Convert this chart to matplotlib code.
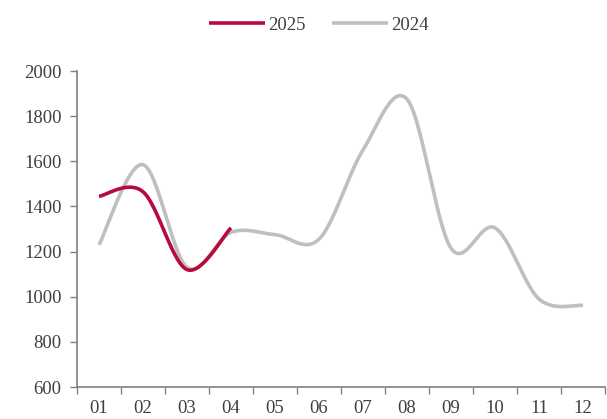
import numpy as np
import matplotlib
matplotlib.use('Agg')
from matplotlib import pyplot as plt

# du lieu doc tu hinh
months = ['01', '02', '03', '04', '05', '06', '07', '08', '09', '10', '11', '12']
y2024 = [1230, 1585, 1130, 1285, 1275, 1255, 1650, 1875, 1215, 1305, 990, 962]
y2025 = [1445, 1465, 1120, 1305]

plt.rcParams['font.family'] = ['Liberation Serif', 'DejaVu Serif']


def smooth(xs, ys, n=30):
    # duong cong kieu Excel (Bezier, he so 1/6)
    xs = np.asarray(xs, float)
    ys = np.asarray(ys, float)
    px, py = [], []
    for i in range(len(xs) - 1):
        i0 = max(i - 1, 0)
        i3 = min(i + 2, len(xs) - 1)
        p0 = np.array([xs[i0], ys[i0]])
        p1 = np.array([xs[i], ys[i]])
        p2 = np.array([xs[i + 1], ys[i + 1]])
        p3 = np.array([xs[i3], ys[i3]])
        c1 = p1 + (p2 - p0) / 6
        c2 = p2 - (p3 - p1) / 6
        t = np.linspace(0, 1, n)[:, None]
        pts = (1 - t) ** 3 * p1 + 3 * (1 - t) ** 2 * t * c1 + 3 * (1 - t) * t ** 2 * c2 + t ** 3 * p2
        px.extend(pts[:, 0])
        py.extend(pts[:, 1])
    return px, py


fig = plt.figure(figsize=(6.07, 4.19), dpi=100)
ax = fig.add_axes([77 / 607, 1 - 387 / 419, 528 / 607, 316 / 419])

x = np.arange(len(months))
sx, sy = smooth(x[:len(y2025)], y2025)
ax.plot(sx, sy, color='#b80a3c', lw=2.6, label='2025', zorder=3, solid_capstyle='butt')
sx, sy = smooth(x, y2024)
ax.plot(sx, sy, color='#bfbfbf', lw=2.6, label='2024', zorder=2, solid_capstyle='butt')

ax.set_xlim(-0.5, 11.5)
ax.set_ylim(600, 2000)
ax.set_yticks(range(600, 2001, 200))
ax.set_xticks(x)
ax.set_xticklabels(months)
ax.set_xticks(np.arange(-0.5, 12, 1), minor=True)
ax.tick_params(axis='x', which='major', length=0, pad=9)
ax.tick_params(axis='x', which='minor', length=5, width=1, color='#808080', direction='out')
ax.tick_params(axis='y', length=5, width=1, color='#808080', direction='out', pad=6)
ax.tick_params(labelsize=13.5, labelcolor='#404040')

for s in ['top', 'right']:
    ax.spines[s].set_visible(False)
for s in ['left', 'bottom']:
    ax.spines[s].set_color('#808080')
    ax.spines[s].set_linewidth(1.2)

fig.legend(loc='upper center', bbox_to_anchor=(0.525, 1.0), ncol=2, frameon=False,
           fontsize=13.5, handlelength=3.0, columnspacing=1.4, handletextpad=0.15,
           labelcolor='#404040')

fig.savefig('out.png', dpi=100)
